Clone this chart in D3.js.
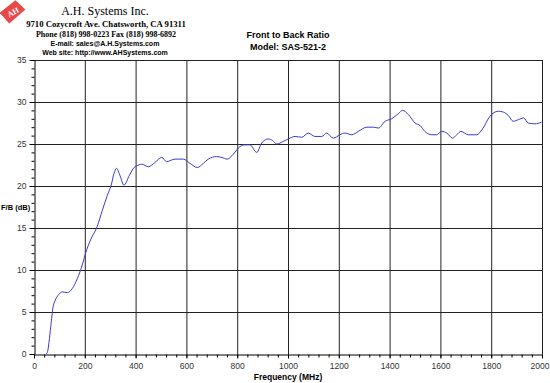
<!DOCTYPE html>
<html>
<head>
<meta charset="utf-8">
<script src="https://cdn.jsdelivr.net/npm/d3@7"></script>
<style>
  body { margin: 0; background: #fff; }
  svg { display: block; }
</style>
</head>
<body>
<div id="chart"></div>
<script>
// Frequency (MHz) and front-to-back ratio (dB)
const freqMHz = [47, 52, 66, 75, 81, 98, 111, 131, 151, 171, 190, 203, 223, 249, 269, 289, 304, 315, 325,
  339, 354, 376, 394, 413, 424, 450, 476, 503, 522, 555, 588, 614, 643, 667, 686, 719, 739, 761, 785,
  811, 831, 850, 877, 896, 922, 940, 955, 981, 1008, 1028, 1054, 1080, 1106, 1133, 1152, 1178, 1205,
  1224, 1251, 1277, 1310, 1336, 1356, 1382, 1408, 1434, 1451, 1474, 1500, 1520, 1539, 1566, 1585,
  1605, 1625, 1648, 1664, 1681, 1710, 1743, 1766, 1795, 1828, 1848, 1867, 1887, 1907, 1927, 1946,
  1972, 1998];
const ratioDb = [0, 0.15, 3.25, 5.6, 6.2, 7.1, 7.4, 7.3, 7.8, 9.0, 10.6, 12.0, 13.6, 15.2, 17.1, 18.9, 20.1, 21.5, 22.1,
  21.2, 20.1, 21.3, 22.2, 22.5, 22.6, 22.3, 22.8, 23.4, 22.9, 23.2, 23.2, 22.7, 22.2, 22.7, 23.2, 23.5, 23.4, 23.2, 23.8,
  24.7, 24.9, 24.9, 24.0, 25.1, 25.6, 25.4, 25.0, 25.3, 25.7, 25.9, 25.8, 26.3, 25.9, 25.9, 26.3, 25.7, 26.1,
  26.3, 26.1, 26.5, 27.0, 27.0, 26.9, 27.7, 28.0, 28.6, 29.0, 28.5, 27.5, 27.2, 26.5, 26.1, 26.1,
  26.5, 26.3, 25.7, 26.1, 26.5, 26.1, 26.1, 26.8, 28.3, 28.9, 28.8, 28.4, 27.7, 27.9, 28.1, 27.5,
  27.4, 27.6];

const xTicks = [0, 200, 400, 600, 800, 1000, 1200, 1400, 1600, 1800, 2000];
const yTicks = [0, 5, 10, 15, 20, 25, 30, 35];

const headerLines = [
  "9710 Cozycroft Ave. Chatsworth, CA 91311",
  "Phone (818) 998-0223 Fax (818) 998-6892"
];
const contactLines = [
  "E-mail: sales@A.H.Systems.com",
  "Web site: http://www.AHSystems.com"
];

const width = 550;
const height = 383;
const plot = { left: 34, right: 542, top: 60, bottom: 354 };

const svg = d3
  .select("#chart")
  .append("svg")
  .attr("width", width)
  .attr("height", height);

svg.append("rect").attr("width", width).attr("height", height).attr("fill", "#fff");

const x = d3.scaleLinear().domain([0, 2000]).range([plot.left, plot.right]);
const y = d3.scaleLinear().domain([0, 35]).range([plot.bottom, plot.top]);

// Grid
svg
  .append("g")
  .selectAll("line")
  .data(xTicks.slice(1))
  .join("line")
  .attr("x1", (d) => x(d) + 0.5)
  .attr("x2", (d) => x(d) + 0.5)
  .attr("y1", plot.top)
  .attr("y2", plot.bottom)
  .attr("stroke", "#222")
  .attr("stroke-width", 1);

svg
  .append("g")
  .selectAll("line")
  .data(yTicks.slice(1))
  .join("line")
  .attr("x1", plot.left)
  .attr("x2", plot.right)
  .attr("y1", (d) => y(d) + 0.5)
  .attr("y2", (d) => y(d) + 0.5)
  .attr("stroke", "#222")
  .attr("stroke-width", 1);

// Axes: minor ticks first, then major with labels
const tickFont = "Arial, 'Liberation Sans', sans-serif";

svg
  .append("g")
  .attr("transform", `translate(0, ${plot.bottom + 0.5})`)
  .call(d3.axisBottom(x).tickValues(d3.range(0, 2001, 40)).tickSize(3).tickFormat(""))
  .call((g) => g.select(".domain").remove());

svg
  .append("g")
  .attr("transform", `translate(${plot.left + 0.5}, 0)`)
  .call(d3.axisLeft(y).tickValues(d3.range(0, 36, 1)).tickSize(3).tickFormat(""))
  .call((g) => g.select(".domain").remove());

const xAxis = svg
  .append("g")
  .attr("transform", `translate(0, ${plot.bottom + 0.5})`)
  .call(d3.axisBottom(x).tickValues(xTicks).tickSize(4).tickSizeOuter(0).tickPadding(4).tickFormat(d3.format("d")));

const yAxis = svg
  .append("g")
  .attr("transform", `translate(${plot.left + 0.5}, 0)`)
  .call(d3.axisLeft(y).tickValues(yTicks).tickSize(5).tickSizeOuter(0).tickPadding(3));

[xAxis, yAxis].forEach((g) => {
  g.selectAll("text").attr("font-family", tickFont).attr("font-size", 8.5).attr("fill", "#333");
  g.selectAll("line").attr("stroke", "#000");
  g.select(".domain").attr("stroke", "#000");
});

// keep the last x label inside the window
xAxis
  .selectAll(".tick text")
  .filter((d) => d === 2000)
  .attr("text-anchor", "end")
  .attr("dx", 7);

// Curve
const points = freqMHz.map((f, i) => [f, ratioDb[i]]);
svg
  .append("path")
  .datum(points)
  .attr("fill", "none")
  .attr("stroke", "#3a3acc")
  .attr("stroke-width", 1)
  .attr(
    "d",
    d3
      .line()
      .x((d) => x(d[0]))
      .y((d) => y(d[1]))
      .curve(d3.curveMonotoneX)
  );

// Axis titles
svg
  .append("text")
  .attr("x", 1)
  .attr("y", y(17.5) + 3)
  .attr("font-family", tickFont)
  .attr("font-size", 7.5)
  .attr("font-weight", "bold")
  .text("F/B (dB)");

svg
  .append("text")
  .attr("x", 288)
  .attr("y", 380)
  .attr("text-anchor", "middle")
  .attr("font-family", tickFont)
  .attr("font-size", 8.5)
  .attr("font-weight", "bold")
  .text("Frequency (MHz)");

// Chart title
svg
  .append("text")
  .attr("x", 288)
  .attr("y", 38)
  .attr("text-anchor", "middle")
  .attr("font-family", tickFont)
  .attr("font-size", 9)
  .attr("font-weight", "bold")
  .text("Front to Back Ratio");

svg
  .append("text")
  .attr("x", 288)
  .attr("y", 50)
  .attr("text-anchor", "middle")
  .attr("font-family", tickFont)
  .attr("font-size", 9)
  .attr("font-weight", "bold")
  .text("Model: SAS-521-2");

// Company header
const logo = svg.append("g").attr("transform", "translate(13, 12) rotate(-30)");
logo
  .append("path")
  .attr("d", "M-12,-6 L8,-9 L12,4 L-9,8 Z")
  .attr("fill", "#e84848");
logo
  .append("text")
  .attr("x", 0)
  .attr("y", 3)
  .attr("text-anchor", "middle")
  .attr("font-family", "'Liberation Serif', serif")
  .attr("font-size", 8)
  .attr("font-weight", "bold")
  .attr("fill", "#fff")
  .text("AH");

svg
  .append("text")
  .attr("x", 105)
  .attr("y", 15)
  .attr("text-anchor", "middle")
  .attr("font-family", "'Liberation Serif', 'Times New Roman', serif")
  .attr("font-size", 12)
  .text("A.H. Systems Inc.");

svg
  .append("g")
  .selectAll("text")
  .data(headerLines)
  .join("text")
  .attr("x", 106)
  .attr("y", (d, i) => 27 + i * 10)
  .attr("text-anchor", "middle")
  .attr("font-family", "'Liberation Serif', 'Times New Roman', serif")
  .attr("font-weight", "bold")
  .attr("font-size", (d, i) => (i === 0 ? 8.7 : 8))
  .text((d) => d);

svg
  .append("g")
  .selectAll("text")
  .data(contactLines)
  .join("text")
  .attr("x", 105)
  .attr("y", (d, i) => 46 + i * 9)
  .attr("text-anchor", "middle")
  .attr("font-family", tickFont)
  .attr("font-weight", "bold")
  .attr("font-size", 7)
  .text((d) => d);
</script>
</body>
</html>
